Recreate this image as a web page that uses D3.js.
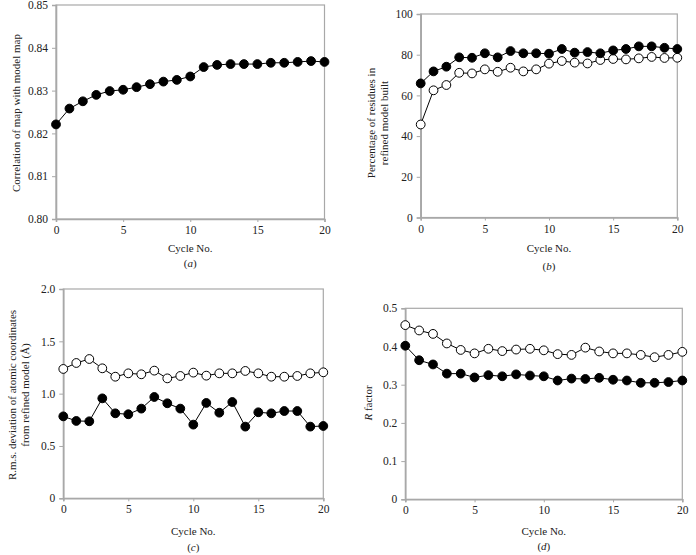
<!DOCTYPE html>
<html>
<head>
<meta charset="utf-8">
<script src="https://cdn.jsdelivr.net/npm/d3@7"></script>
<style>
  html, body { margin: 0; padding: 0; background: #fff; }
  svg { display: block; }
  text { font-family: "Liberation Serif", "Times New Roman", serif; fill: #222; }
</style>
</head>
<body>
<svg id="chart" width="696" height="555"></svg>
<script>
// ---- data ----
const cycles = d3.range(0, 21);
const xTicks = [0, 5, 10, 15, 20];

// (a) correlation of map with model map
const corrValues = [0.8221, 0.8258, 0.8275, 0.8290, 0.8299, 0.8302, 0.8308, 0.8315, 0.8321, 0.8325, 0.8333,
  0.8355, 0.8360, 0.8362, 0.8362, 0.8362, 0.8365, 0.8365, 0.8367, 0.8369, 0.8367];
const corrTicks = [0.80, 0.81, 0.82, 0.83, 0.84, 0.85];

// (b) percentage of residues built
const pctFilled = [65.9, 71.8, 74.1, 78.7, 78.5, 80.7, 78.7, 81.8, 80.7, 80.7, 80.5,
  82.8, 81.0, 81.3, 80.7, 82.1, 82.8, 84.1, 84.1, 83.4, 82.8];
const pctOpen = [45.7, 62.5, 65.1, 71.1, 70.8, 72.8, 71.6, 73.6, 71.8, 72.8, 75.6,
  76.9, 76.1, 75.7, 77.4, 77.9, 77.7, 78.2, 78.9, 78.4, 78.5];
const pctTicks = [0, 20, 40, 60, 80, 100];

// (c) r.m.s. deviation
const rmsOpen = [1.236, 1.293, 1.331, 1.242, 1.162, 1.194, 1.185, 1.220, 1.146, 1.169, 1.201,
  1.172, 1.194, 1.194, 1.217, 1.194, 1.162, 1.162, 1.169, 1.194, 1.204];
const rmsFilled = [0.783, 0.739, 0.736, 0.955, 0.812, 0.803, 0.857, 0.968, 0.908, 0.857, 0.704,
  0.911, 0.818, 0.920, 0.685, 0.822, 0.812, 0.834, 0.834, 0.685, 0.691];
const rmsTicks = [0, 0.5, 1.0, 1.5, 2.0];
const rmsTickLabels = ["0", "0.5", "1.0", "1.5", "2.0"];

// (d) R factor
const rOpen = [0.456, 0.442, 0.433, 0.408, 0.391, 0.382, 0.394, 0.388, 0.392, 0.394, 0.390,
  0.380, 0.378, 0.397, 0.387, 0.382, 0.382, 0.378, 0.372, 0.378, 0.386];
const rFilled = [0.402, 0.364, 0.353, 0.329, 0.329, 0.319, 0.325, 0.322, 0.327, 0.324, 0.322,
  0.311, 0.316, 0.315, 0.318, 0.313, 0.311, 0.305, 0.305, 0.307, 0.311];
const rTicks = [0, 0.1, 0.2, 0.3, 0.4, 0.5];
const rTickLabels = ["0", "0.1", "0.2", "0.3", "0.4", "0.5"];

// ---- drawing ----
const svg = d3.select("#chart");
const AXIS = "#a8a8a8";

function panel(cfg) {
  const g = svg.append("g");
  const x = d3.scaleLinear().domain([0, 20]).range([cfg.x0, cfg.x1]);
  const y = d3.scaleLinear().domain(cfg.yDomain).range([cfg.y1, cfg.y0]);

  // frame
  g.append("rect")
    .attr("x", cfg.x0).attr("y", cfg.y0)
    .attr("width", cfg.x1 - cfg.x0).attr("height", cfg.y1 - cfg.y0)
    .attr("fill", "none").attr("stroke", AXIS).attr("stroke-width", 1.2);

  const xAxis = g.append("g").attr("transform", `translate(0,${cfg.y1})`)
    .call(d3.axisBottom(x).tickValues(xTicks).tickSize(3).tickPadding(4).tickFormat(d3.format("d")));
  const yAxis = g.append("g").attr("transform", `translate(${cfg.x0},0)`)
    .call(d3.axisLeft(y).tickValues(cfg.yTicks).tickSize(4).tickPadding(4)
      .tickFormat((d, i) => cfg.yLabels[i]));
  [xAxis, yAxis].forEach(a => {
    a.select(".domain").attr("stroke", AXIS).attr("stroke-width", 1.6);
    a.selectAll(".tick line").attr("stroke", AXIS).attr("stroke-width", 1);
    a.selectAll(".tick text").attr("font-size", 11.5)
      .attr("font-family", "Liberation Serif, serif").attr("fill", "#222");
  });

  const line = d3.line().x((d, i) => x(cycles[i])).y(d => y(d));
  cfg.series.forEach(s => {
    g.append("path").datum(s.values).attr("d", line)
      .attr("fill", "none").attr("stroke", "#000").attr("stroke-width", 1);
  });
  cfg.series.forEach(s => {
    g.selectAll(null).data(s.values).enter().append("circle")
      .attr("cx", (d, i) => x(cycles[i])).attr("cy", d => y(d))
      .attr("r", 4.4)
      .attr("fill", s.filled ? "#000" : "#fff")
      .attr("stroke", "#000").attr("stroke-width", 1);
  });

  // x label
  const cx = (cfg.x0 + cfg.x1) / 2;
  g.append("text").attr("x", cx).attr("y", cfg.xLabelY)
    .attr("text-anchor", "middle").attr("font-size", 11).text("Cycle No.");
  const cap = g.append("text").attr("x", cx).attr("y", cfg.capY)
    .attr("text-anchor", "middle").attr("font-size", 11);
  cap.append("tspan").text("(");
  cap.append("tspan").attr("font-style", "italic").text(cfg.letter);
  cap.append("tspan").text(")");

  // y label
  const yl = g.append("text")
    .attr("transform", `translate(${cfg.yLabelX},${cfg.yLabelCY}) rotate(-90)`)
    .attr("text-anchor", "middle").attr("font-size", 11);
  cfg.yLabelLines.forEach((ln, i) => {
    const t = yl.append("tspan").attr("x", 0).attr("dy", i === 0 ? 0 : 12.5);
    if (Array.isArray(ln)) {
      ln.forEach(part => t.append("tspan").attr("font-style", part.italic ? "italic" : null).text(part.text));
    } else {
      t.text(ln);
    }
  });
}

panel({
  x0: 56, x1: 324.5, y0: 5, y1: 219,
  yDomain: [0.80, 0.85], yTicks: corrTicks, yLabels: corrTicks.map(d3.format(".2f")),
  series: [{ values: corrValues, filled: true }],
  xLabelY: 252, capY: 267, letter: "a",
  yLabelX: 20, yLabelCY: 113,
  yLabelLines: ["Correlation of map with model map"]
});

panel({
  x0: 420.7, x1: 677.3, y0: 14, y1: 217.5,
  yDomain: [0, 100], yTicks: pctTicks, yLabels: pctTicks.map(String),
  series: [{ values: pctOpen, filled: false }, { values: pctFilled, filled: true }],
  xLabelY: 252, capY: 270, letter: "b",
  yLabelX: 375, yLabelCY: 123,
  yLabelLines: ["Percentage of residues in", "refined model built"]
});

panel({
  x0: 63.3, x1: 323.3, y0: 289, y1: 498.3,
  yDomain: [0, 2], yTicks: rmsTicks, yLabels: rmsTickLabels,
  series: [{ values: rmsOpen, filled: false }, { values: rmsFilled, filled: true }],
  xLabelY: 534.5, capY: 550.5, letter: "c",
  yLabelX: 16, yLabelCY: 395,
  yLabelLines: ["R.m.s. deviation of atomic coordinates", "from refined model (Å)"]
});

panel({
  x0: 405.3, x1: 682.3, y0: 308.3, y1: 499.3,
  yDomain: [0, 0.5], yTicks: rTicks, yLabels: rTickLabels,
  series: [{ values: rOpen, filled: false }, { values: rFilled, filled: true }],
  xLabelY: 534.5, capY: 550, letter: "d",
  yLabelX: 372, yLabelCY: 403,
  yLabelLines: [[{ text: "R", italic: true }, { text: " factor" }]]
});
</script>
</body>
</html>
